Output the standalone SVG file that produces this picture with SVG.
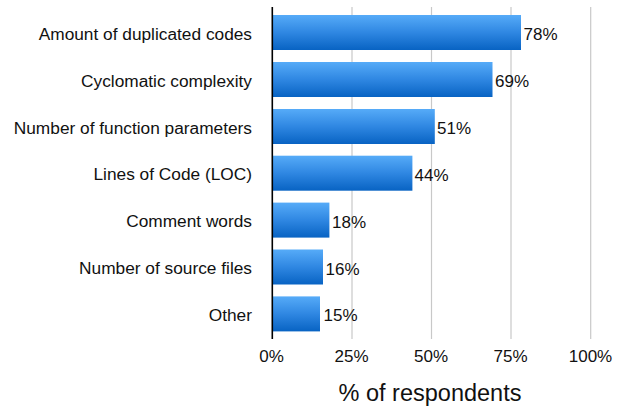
<svg xmlns="http://www.w3.org/2000/svg" width="624" height="411" viewBox="0 0 624 411">
<defs>
<linearGradient id="barGrad" x1="0" y1="0" x2="0" y2="1">
<stop offset="0" stop-color="#56abf8"/>
<stop offset="0.5" stop-color="#2f87e2"/>
<stop offset="1" stop-color="#0863c3"/>
</linearGradient>
</defs>
<style>
text{font-family:"Liberation Sans",Arial,sans-serif;fill:#111}
.cat{font-size:17.3px;text-anchor:end}
.val{font-size:17px}
.tick{font-size:17px;text-anchor:middle}
.title{font-size:23.5px;text-anchor:middle}
.grid{stroke:#c8c8c8;stroke-width:1.2}
.bar{fill:url(#barGrad)}
</style>
<rect width="624" height="411" fill="#fff"/>
<g id="grid">
<line class="grid" x1="352" y1="7" x2="352" y2="339"/>
<line class="grid" x1="431.5" y1="7" x2="431.5" y2="339"/>
<line class="grid" x1="511" y1="7" x2="511" y2="339"/>
<line class="grid" x1="590.7" y1="7" x2="590.7" y2="339"/>
</g>
<g id="bars">
<g id="bar-duplicated"><rect class="bar" x="272" y="15" width="249" height="35"/><text class="cat" x="252" y="39.5">Amount of duplicated codes</text><text class="val" x="523.5" y="40">78%</text></g>
<g id="bar-cyclomatic"><rect class="bar" x="272" y="62" width="220.5" height="35"/><text class="cat" x="252" y="86.5">Cyclomatic complexity</text><text class="val" x="495" y="87">69%</text></g>
<g id="bar-parameters"><rect class="bar" x="272" y="109" width="162.8" height="35"/><text class="cat" x="252" y="133.5">Number of function parameters</text><text class="val" x="437" y="134">51%</text></g>
<g id="bar-loc"><rect class="bar" x="272" y="155.7" width="140.4" height="35"/><text class="cat" x="252" y="180.2">Lines of Code (LOC)</text><text class="val" x="414.5" y="180.7">44%</text></g>
<g id="bar-comments"><rect class="bar" x="272" y="202.6" width="57.4" height="35"/><text class="cat" x="252" y="227.1">Comment words</text><text class="val" x="332" y="227.6">18%</text></g>
<g id="bar-files"><rect class="bar" x="272" y="249.5" width="51" height="35"/><text class="cat" x="252" y="274">Number of source files</text><text class="val" x="325.5" y="274.5">16%</text></g>
<g id="bar-other"><rect class="bar" x="272" y="296.4" width="48" height="35"/><text class="cat" x="252" y="320.9">Other</text><text class="val" x="323.5" y="321.4">15%</text></g>
</g>
<g id="axis">
<line x1="272.3" y1="7" x2="272.3" y2="339" stroke="#000" stroke-width="1.6"/>
<text class="tick" x="271.5" y="361.5">0%</text>
<text class="tick" x="351.5" y="361.5">25%</text>
<text class="tick" x="431" y="361.5">50%</text>
<text class="tick" x="510.5" y="361.5">75%</text>
<text class="tick" x="590.5" y="361.5">100%</text>
<text class="title" x="430" y="400.5">% of respondents</text>
</g>
</svg>
